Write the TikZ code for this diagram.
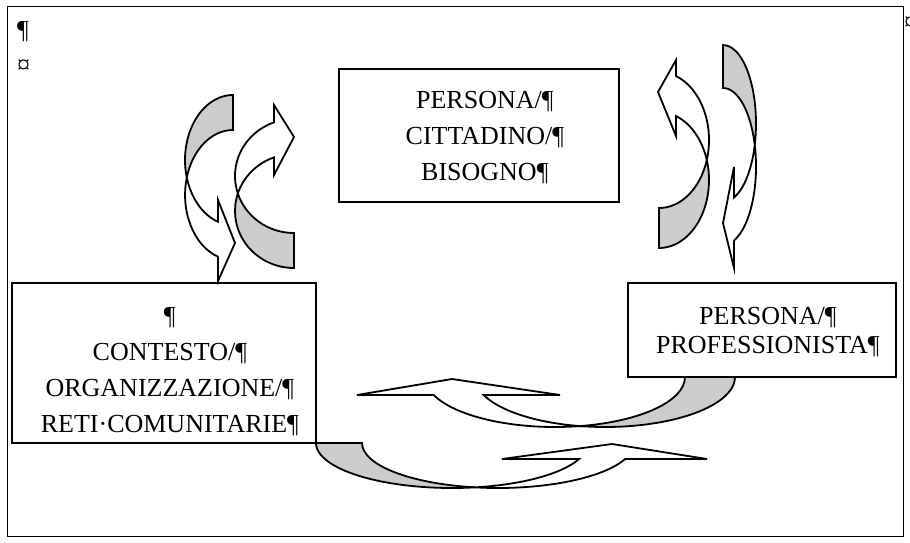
\documentclass[tikz,border=0pt]{standalone}
\usepackage{fontspec}
\setmainfont{Liberation Serif}
\usetikzlibrary{positioning}

\newcommand{\eol}{\rlap{¶}}
\newcommand{\firstline}{\rule{0pt}{20pt}}

\tikzset{
  box/.style={draw, line width=1.8pt, inner sep=0pt},
  txt/.style={align=center, inner sep=0pt, font=\fontsize{26}{36}\selectfont},
  sym/.style={inner sep=0pt, font=\fontsize{26}{30}\selectfont},
  back/.style={draw, line width=1.8pt, fill=gray!40},
  front/.style={draw, line width=1.8pt, fill=white},
}

\begin{document}
\begin{tikzpicture}[x=1pt, y=-1pt]
  \useasboundingbox (0,0) rectangle (910,542);
  \draw[line width=1pt] (7.5,6.5) rectangle (903,536.5);

  % --- paragraph marks ---
  \node[sym, anchor=base west] (pil) at (17,38) {¶};
  \node[sym, anchor=base west] (cell) at (17,73) {¤};
  \node[sym, anchor=base west] (rowend) at (904,30) {¤};

  % --- curved arrows, left pair ---
  \draw[back, x radius=48, y radius=65] (233,95)
    arc[start angle=270, end angle=164.38]
    arc[start angle=195.62, end angle=270] -- cycle;
  \draw[front, x radius=48, y radius=65] (186.77,177.5)
    arc[start angle=164.38, end angle=108.21]
    -- (218,200) -- (235,243) -- (218,281) -- (218.07,256.74)
    arc[start angle=108.21, end angle=195.62] -- cycle;

  \draw[back, x radius=59, y radius=57] (294,268)
    arc[start angle=90, end angle=197.88]
    arc[start angle=162.12, end angle=90] -- cycle;
  \draw[front, x radius=59, y radius=57] (237.85,193.5)
    arc[start angle=197.88, end angle=250.19]
    -- (274,175) -- (294,137) -- (274,105) -- (274,122.37)
    arc[start angle=250.19, end angle=162.12] -- cycle;

  % --- curved arrows, right pair ---
  \draw[back, x radius=50, y radius=68] (659,248)
    arc[start angle=90, end angle=-17.10]
    arc[start angle=17.10, end angle=90] -- cycle;
  \draw[front, x radius=50, y radius=68] (706.79,160)
    arc[start angle=-17.10, end angle=-70.12]
    -- (676,136) -- (658,92) -- (676,60) -- (676,76.05)
    arc[start angle=-70.12, end angle=17.10] -- cycle;

  \draw[back, x radius=33, y radius=78.5] (723,45)
    arc[start angle=-90, end angle=15.89]
    arc[start angle=-15.89, end angle=-90] -- cycle;
  \draw[front, x radius=33, y radius=78.5] (754.74,145)
    arc[start angle=15.89, end angle=70.53]
    -- (734,167) -- (723,223) -- (734,268) -- (734,240.51)
    arc[start angle=70.53, end angle=-15.89] -- cycle;

  % --- curved arrows, bottom pair ---
  \draw[back, x radius=130, y radius=50] (735,377)
    arc[start angle=0, end angle=101.09]
    arc[start angle=78.91, end angle=0] -- cycle;
  \draw[front, x radius=130, y radius=50] (580,426.07)
    arc[start angle=101.09, end angle=158.90]
    -- (560,395) -- (452,379) -- (357,395) -- (433.71,395)
    arc[start angle=158.90, end angle=78.91] -- cycle;

  \draw[back, x radius=136, y radius=45] (316,443)
    arc[start angle=180, end angle=80.26]
    arc[start angle=99.74, end angle=180] -- cycle;
  \draw[front, x radius=136, y radius=45] (475,487.35)
    arc[start angle=80.26, end angle=20.83]
    -- (502,459) -- (612,444) -- (707,459) -- (625.11,459)
    arc[start angle=20.83, end angle=99.74] -- cycle;

  % --- boxes ---
  \node[box, minimum width=280pt, minimum height=133pt] (need) at (479,135.5) {};
  \node[box, minimum width=304pt, minimum height=160pt] (context) at (164,363) {};
  \node[box, minimum width=268pt, minimum height=94pt] (prof) at (762,330) {};

  \node[txt, below=20pt of need.north] (needtext)
    {\firstline PERSONA/\eol\\CITTADINO/\eol\\BISOGNO\eol};
  \node[txt, below=22pt of context.north] (contexttext)
    {\firstline\eol\\CONTESTO/\eol\\ORGANIZZAZIONE/\eol\\RETI·COMUNITARIE\eol};
  \node[txt, font=\fontsize{26}{29}\selectfont, below=22pt of prof.north] (proftext)
    {\firstline PERSONA/\eol\\PROFESSIONISTA\eol};
\end{tikzpicture}
\end{document}
